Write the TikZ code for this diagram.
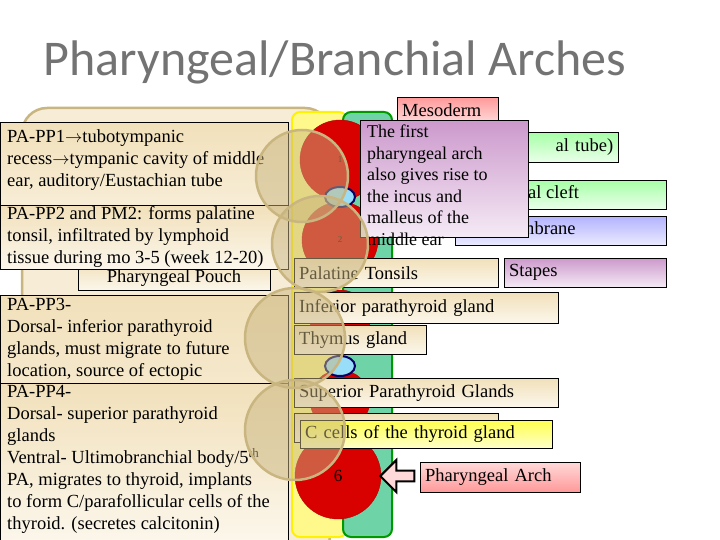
\documentclass[tikz,border=0pt]{standalone}
\usepackage{fontspec}
\setmainfont{Liberation Serif}
\newfontfamily\titlefont{Carlito}
\usetikzlibrary{shapes.arrows}
\definecolor{tan}{HTML}{C9B57F}
\definecolor{beigetop}{HTML}{F1E0BA}
\definecolor{beigebot}{HTML}{FCF7EC}
\definecolor{teal}{HTML}{6FD3A8}
\tikzset{
  panel/.style={draw=black, anchor=north west, inner sep=0pt, top color=beigetop, bottom color=beigebot},
  txt/.style={anchor=north west, inner sep=0pt, align=left, font=\fontsize{18.5}{22}\selectfont},
  lblbox/.style={draw=black, anchor=north west, minimum height=29pt, inner xsep=5pt,
    align=left, font=\fontsize{18.5}{20}\selectfont},
  arch/.style={circle, fill=red!85!black, draw=red!70!black},
  halo/.style={circle, fill=tan, fill opacity=0.5, draw=tan, line width=2.5pt}
}
\begin{document}
\begin{tikzpicture}[x=1pt,y=-1pt]
\useasboundingbox (0,0) rectangle (720,540);
\fill[white] (0,0) rectangle (720,540);

\node[font=\titlefont\fontsize{50}{54}\selectfont, text=gray!90!black] (title) at (335,62) {Pharyngeal/Branchial Arches};

% background panel and columns
\draw[tan, line width=2.5pt, fill=beigetop!60, rounded corners=25pt] (22,108) rectangle (330,560);
\draw[yellow, line width=2pt, fill=yellow!45, rounded corners=8pt] (292,112) rectangle (347,537);
\draw[green!60!black, line width=2pt, fill=teal, rounded corners=8pt] (343,112) rectangle (392,537);

% arches
\node[arch, minimum size=80pt] (arch1) at (340,160) {\small 1};
\node[arch, minimum size=76pt] (arch2) at (340,240) {\small 2};
\node[arch, minimum size=60pt] (arch4) at (340,320) {};
\node[arch, minimum size=60pt] (arch5) at (340,400) {};
\node[arch, minimum size=86pt] (arch6) at (338,476) {\fontsize{17}{18}\selectfont 6};
\draw[blue!40!black, line width=2pt, fill=cyan!40] (340,197) ellipse (15pt and 10pt);
\draw[blue!40!black, line width=2pt, fill=cyan!40] (340,366) ellipse (15pt and 10pt);

% right boxes
\node[lblbox, top color=red!40, bottom color=red!15, text width=91pt, minimum height=25pt] (meso) at (397,97) {Mesoderm};
\node[lblbox, top color=green!35, bottom color=green!8, text width=153pt, minimum height=30pt, align=right] (endo) at (455,132) {al tube)};
\node[lblbox, top color=green!35, bottom color=green!8, text width=201pt] (cleft) at (455,180) {};
\node[txt] (clefttxt) at (528,185) {al cleft};
\node[lblbox, top color=blue!30, bottom color=blue!8, text width=201pt] (membr) at (455,216) {};
\node[txt] (membrtxt) at (520,221) {mbrane};
\node[panel, top color=violet!40, bottom color=violet!8, minimum width=168pt, minimum height=117pt] (callbox) at (360,120) {};
\node[txt, font=\fontsize{18}{21.5}\selectfont] (callout) at (367,125) {The first\\pharyngeal arch\\also gives rise to\\the incus and\\malleus of the\\middle ear};
\node[lblbox, top color=violet!40, bottom color=violet!8, text width=152pt] (stapes) at (504,258) {Stapes};
\node[lblbox, top color=beigetop, bottom color=beigebot, text width=194pt] (tonsil) at (294,258) {Palatine Tonsils};
\node[lblbox, top color=beigetop, bottom color=beigebot, text width=254pt, minimum height=31pt] (infpara) at (294,292) {Inferior parathyroid gland};
\node[lblbox, top color=beigetop, bottom color=beigebot, text width=122pt] (thymus) at (294,325) {Thymus gland};
\node[lblbox, top color=beigetop, bottom color=beigebot, text width=254pt] (suppara) at (294,378) {Superior Parathyroid Glands};
\node[lblbox, top color=beigetop, bottom color=beigebot, text width=194pt] (hidden) at (294,413) {};
\node[lblbox, top color=yellow!70, bottom color=yellow!20, text width=242pt, minimum height=28pt] (ccells) at (300,420) {C cells of the thyroid gland};
\node[lblbox, top color=red!15, bottom color=red!40, text width=150pt, minimum height=30pt] (parch) at (420,462) {Pharyngeal Arch};
\node[single arrow, shape border rotate=180, draw=black, line width=2pt, fill=red!15,
  minimum height=34pt, minimum width=32pt, single arrow head extend=4pt, inner sep=1pt] (pointer) at (400,476) {};

% left text boxes
\node[panel, fill=tan!80, minimum width=192pt, minimum height=28pt] (pouch) at (78,262) {};
\node[txt, anchor=north] (pouchtxt) at (174,269) {Pharyngeal Pouch};
\node[panel, minimum width=288pt, minimum height=146pt] (pp1) at (0,122) {};
\node[txt] (pp1txt) at (7,129) {PA-PP1$\rightarrow$tubotympanic\\recess$\rightarrow$tympanic cavity of middle\\ear, auditory/Eustachian tube};
\node[panel, minimum width=288pt, minimum height=64pt] (pp2) at (0,205) {};
\node[txt] (pp2txt) at (7,206) {PA-PP2 and PM2: forms palatine\\tonsil, infiltrated by lymphoid\\tissue during mo 3-5 (week 12-20)};
\node[panel, minimum width=288pt, minimum height=245pt] (pp3) at (0,295) {};
\node[txt] (pp3txt) at (7,298) {PA-PP3-\\Dorsal- inferior parathyroid\\glands, must migrate to future\\location, source of ectopic};
\node[panel, minimum width=288pt, minimum height=160pt] (pp4) at (0,383) {};
\node[txt] (pp4txt) at (7,385) {PA-PP4-\\Dorsal- superior parathyroid\\glands\\Ventral- Ultimobranchial body/5\textsuperscript{th}\\PA, migrates to thyroid, implants\\to form C/parafollicular cells of the\\thyroid. (secretes calcitonin)};

% translucent halos
\node[halo, minimum size=92pt] (halo1) at (302,176) {};
\node[halo, minimum size=96pt] (halo2) at (320,244) {};
\node[halo, minimum size=100pt] (halo3) at (295,338) {};
\node[halo, minimum size=100pt] (halo4) at (295,430) {};
\end{tikzpicture}
\end{document}
